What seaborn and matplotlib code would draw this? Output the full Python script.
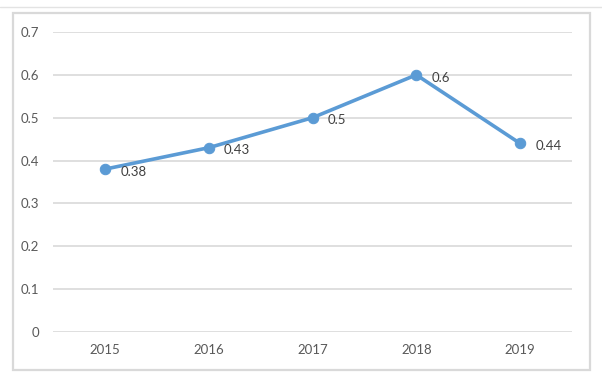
import seaborn as sns
import pandas as pd
import matplotlib.pyplot as plt
from matplotlib.patches import Rectangle
from matplotlib.lines import Line2D

#--Data--#
years = ['2015', '2016', '2017', '2018', '2019']
values = [0.38, 0.43, 0.5, 0.6, 0.44]
labels = ['0.38', '0.43', '0.5', '0.6', '0.44']
yticks = [0, 0.1, 0.2, 0.3, 0.4, 0.5, 0.6, 0.7]
ytick_labels = ['0', '0.1', '0.2', '0.3', '0.4', '0.5', '0.6', '0.7']

df = pd.DataFrame({'year': years, 'value': values})

#--Style--#
sns.set_style('white')
plt.rcParams['font.family'] = ['Lato', 'DejaVu Sans']

fig = plt.figure(figsize=(6.02, 3.77), dpi=100)
ax = fig.add_axes([53 / 602, 45 / 377, 519 / 602, 300 / 377])

line_color = '#5B9BD5'
sns.lineplot(data=df, x='year', y='value', ax=ax, color=line_color,
             linewidth=2.6, marker='o', markersize=7.5,
             markeredgecolor=line_color, sort=False)

#--Data labels--#
for i, (v, lab) in enumerate(zip(values, labels)):
    ax.annotate(lab, (i, v), xytext=(11, -2), textcoords='offset points',
                ha='left', va='center', fontsize=9.5, color='#404040')

ax.set_xlim(-0.5, 4.5)
ax.set_ylim(0, 0.7)
ax.set_yticks(yticks)
ax.set_yticklabels(ytick_labels)
ax.yaxis.grid(True, color='#D9D9D9', linewidth=1.2)
ax.set_axisbelow(True)
for s in ax.spines.values():
    s.set_visible(False)
ax.tick_params(axis='both', length=0, labelsize=9.5, labelcolor='#595959')
ax.tick_params(axis='y', pad=10)
ax.tick_params(axis='x', pad=9)
ax.set_xlabel('')
ax.set_ylabel('')

#--Chart border + top line--#
fig.add_artist(Rectangle((13 / 602, 7 / 377), 577 / 602, 357 / 377,
                         transform=fig.transFigure, fill=False,
                         edgecolor='#D9D9D9', linewidth=1.6))
fig.add_artist(Line2D([0, 1], [370 / 377, 370 / 377], transform=fig.transFigure,
                      color='#E3E3E3', linewidth=1.0))

fig.savefig('out.png', dpi=100)
